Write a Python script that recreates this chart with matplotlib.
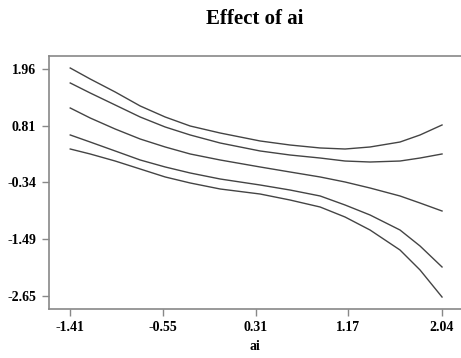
import matplotlib
matplotlib.use("Agg")
import matplotlib.pyplot as plt

# data
x = [-1.41, -1.225, -0.993, -0.761, -0.529, -0.297, -0.019, 0.352, 0.630,
     0.909, 1.140, 1.372, 1.650, 1.836, 2.04]
upper_outer = [1.980, 1.757, 1.493, 1.209, 0.985, 0.802, 0.660, 0.498, 0.416,
               0.356, 0.335, 0.376, 0.477, 0.620, 0.823]
upper_inner = [1.676, 1.473, 1.229, 0.985, 0.782, 0.620, 0.457, 0.295, 0.213,
               0.152, 0.091, 0.071, 0.091, 0.152, 0.234]
fit = [1.168, 0.965, 0.741, 0.538, 0.376, 0.234, 0.112, -0.030, -0.132,
       -0.233, -0.335, -0.457, -0.619, -0.762, -0.924]
lower_inner = [0.620, 0.477, 0.295, 0.112, -0.030, -0.152, -0.274, -0.396, -0.498,
               -0.619, -0.802, -1.005, -1.310, -1.635, -2.061]
lower_outer = [0.335, 0.234, 0.091, -0.071, -0.233, -0.355, -0.477, -0.579, -0.701,
               -0.843, -1.046, -1.310, -1.716, -2.122, -2.671]
xticks = [-1.41, -0.55, 0.31, 1.17, 2.04]
yticks = [1.96, 0.81, -0.34, -1.49, -2.65]

plt.rcParams['font.family'] = ['Liberation Serif', 'DejaVu Serif']
fig = plt.figure(figsize=(4.61, 3.58), dpi=100)
ax = fig.add_axes([0.1056, 0.1369, 0.8944, 0.7067])

for s in [upper_outer, upper_inner, fit, lower_inner, lower_outer]:
    ax.plot(x, s, color='#444444', lw=1.0)

ax.set_xlim(-1.61, 2.216)
ax.set_ylim(-2.914, 2.224)
ax.set_xticks(xticks)
ax.set_xticklabels([f"{v:.2f}" for v in xticks], fontweight='bold', fontsize=10)
ax.set_yticks(yticks)
ax.set_yticklabels([f"{v:.2f}" for v in yticks], fontweight='bold', fontsize=10)
for sp in ['left', 'bottom', 'top']:
    ax.spines[sp].set_color('#888888')
    ax.spines[sp].set_linewidth(1.2)
ax.spines['right'].set_visible(False)
ax.tick_params(direction='out', length=5, width=1, color='#888888', pad=4)
ax.set_xlabel('ai', fontweight='bold', fontsize=10, labelpad=4)
fig.text(0.553, 0.948, 'Effect of ai', ha='center', va='center',
         fontweight='bold', fontsize=15)

fig.savefig('out.png', dpi=100)
